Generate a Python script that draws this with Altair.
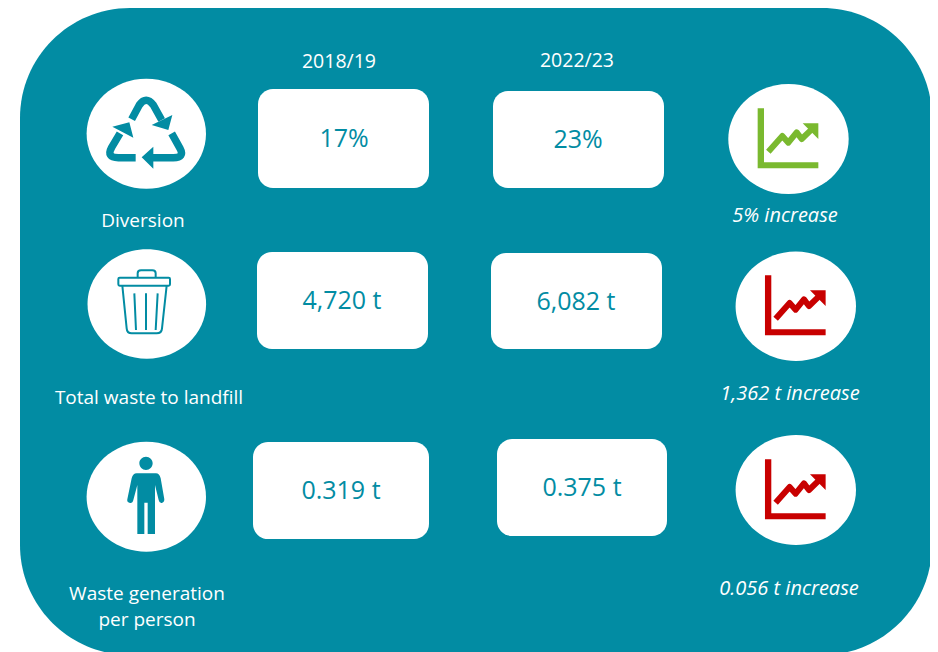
import altair as alt
import pandas as pd

# ---- content ----
YEARS = ["2018/19", "2022/23"]
METRICS = ["Diversion", "Total waste to landfill", "Waste generation", "per person"]
VALUES_2018 = ["17%", "4,720 t", "0.319 t"]
VALUES_2022 = ["23%", "6,082 t", "0.375 t"]
CHANGES = ["5% increase", "1,362 t increase", "0.056 t increase"]

# ---- layout (page pixels) ----
TEAL, WHITE, GREEN, RED = "#028CA3", "#FFFFFF", "#7AB92F", "#C80000"
FONT = "Open Sans"
PANEL = [dict(x=20, x2=932, y=8, y2=655)]
CARDS = [
    dict(x=258, x2=429, y=89, y2=188), dict(x=493, x2=664, y=91, y2=188),
    dict(x=257, x2=428, y=252, y2=349), dict(x=491, x2=662, y=253, y2=349),
    dict(x=253, x2=429, y=442, y2=539), dict(x=497, x2=667, y=439, y2=536),
]
DISCS = [(146.3, 133.7, 59.7, 55), (146.8, 304, 59.3, 54.7), (146.3, 496.7, 59.7, 55),
         (788.5, 139, 60.2, 55), (795.8, 306.3, 60.2, 54.7), (795.8, 490, 60.2, 55)]
YEAR_POS = [(339, 68), (577, 67)]
METRIC_POS = [(143, 227), (149, 404), (147, 600), (147, 626)]
V18_POS = [(344, 147), (342, 309), (341, 499)]
V22_POS = [(578, 148), (576, 310), (582, 496)]
CHANGE_POS = [(785, 222), (790, 400), (789, 595)]

X = alt.Scale(domain=[8, 930], nice=False, zero=False)
Y = alt.Scale(domain=[652, 8], nice=False, zero=False)
xe = alt.X("x:Q", scale=X, axis=None)
ye = alt.Y("y:Q", scale=Y, axis=None)


def rects(rows, color, radius):
    return alt.Chart(pd.DataFrame(rows)).mark_rect(color=color, cornerRadius=radius).encode(
        x=xe, x2="x2:Q", y=ye, y2="y2:Q")


def texts(labels, pos, size, color, italic=False):
    df = pd.DataFrame({"t": labels, "x": [p[0] for p in pos], "y": [p[1] for p in pos]})
    return alt.Chart(df).mark_text(font=FONT, fontSize=size, color=color, align="center",
                                   baseline="alphabetic",
                                   fontStyle="italic" if italic else "normal").encode(
        x=xe, y=ye, text="t:N")


def glyph(path, x, y, color, stroke_width=None, scale=1 / 3):
    """Icon outline as a custom symbol; path units are scaled by sqrt(size)/2."""
    size = (2 * scale) ** 2
    df = pd.DataFrame({"x": [x], "y": [y]})
    if stroke_width is None:
        mark = alt.Chart(df).mark_point(shape=path, size=size, filled=True, fill=color,
                                        strokeWidth=0, opacity=1)
    else:
        mark = alt.Chart(df).mark_point(shape=path, size=size, filled=False, stroke=color,
                                        strokeWidth=stroke_width, opacity=1, strokeJoin="round")
    return mark.encode(x=xe, y=ye)


def disc(cx, cy, rx, ry):
    p = f"M{-rx},0 A{rx},{ry} 0 1,1 {rx},0 A{rx},{ry} 0 1,1 {-rx},0 Z"
    return glyph(p, cx, cy, WHITE, scale=1)


RECYCLE_HEADS = "M307,135 L295,180 L245,165 Z M250,230 L250,296 L215,262 Z M127,170 L178,157 L190,203 Z"
RECYCLE_LINES = ("M185,148 L208,105 Q228,76 250,105 L275,150 "
                 "M305,190 L330,235 Q345,263 310,263 L240,263 "
                 "M197,263 L145,263 Q108,263 125,232 L150,190")
TRASH = ("M14,38 L161,38 Q165,38 165,42 L165,58 Q165,62 161,62 L14,62 Q10,62 10,58 L10,42 Q10,38 14,38 Z "
         "M68,38 L68,25 Q68,16 78,16 L112,16 Q122,16 122,25 L122,38 "
         "M22,62 L35,190 Q36,205 50,205 L125,205 Q140,205 141,190 L155,62 "
         "M58,85 L63,195 M93,85 L93,195 M128,85 L122,195")
PERSON = ("M248,100 A20,20 0 1,1 208,100 A20,20 0 1,1 248,100 Z "
          "M200,130 L258,130 Q268,130 272,145 L283,208 Q283,218 275,219 Q268,220 266,210 L255,165 "
          "L255,312 L233,312 L233,218 L223,218 L223,312 L202,312 L202,165 L190,210 Q188,220 180,219 "
          "Q170,218 172,208 L185,145 Q189,130 200,130 Z")
TREND_FILL = "M8,25 L27,25 L27,187 L190,187 L190,205 L8,205 Z M143,70 L190,70 L190,117 Z"
TREND_LINE = "M40,155 L82,108 L100,128 L125,97 L140,117 L170,88"

layers = [rects(PANEL, TEAL, 110), rects(CARDS, WHITE, 15)]
layers += [disc(*d) for d in DISCS]
layers += [
    glyph(RECYCLE_HEADS, 70, 70, TEAL),
    glyph(RECYCLE_LINES, 70, 70, TEAL, stroke_width=7.5),
    glyph(TRASH, 115, 265, TEAL, stroke_width=2),
    glyph(PERSON, 70, 430, TEAL),
]
for ox, oy, col in [(755, 100, GREEN), (762.3, 267, RED), (762.3, 451, RED)]:
    layers += [glyph(TREND_FILL, ox, oy, col), glyph(TREND_LINE, ox, oy, col, stroke_width=6)]
layers += [
    texts(YEARS, YEAR_POS, 19.5, WHITE),
    texts(METRICS, METRIC_POS, 19, WHITE),
    texts(VALUES_2018, V18_POS, 25, TEAL),
    texts(VALUES_2022, V22_POS, 25, TEAL),
    texts(CHANGES, CHANGE_POS, 20, WHITE, italic=True),
]

chart = alt.layer(*layers).properties(
    width=922, height=644, padding=0,
    autosize=alt.AutoSizeParams(type="none"),
    background="white",
).configure_view(stroke=None)

chart.save("out.html", embed_options={"renderer": "svg", "actions": False})
